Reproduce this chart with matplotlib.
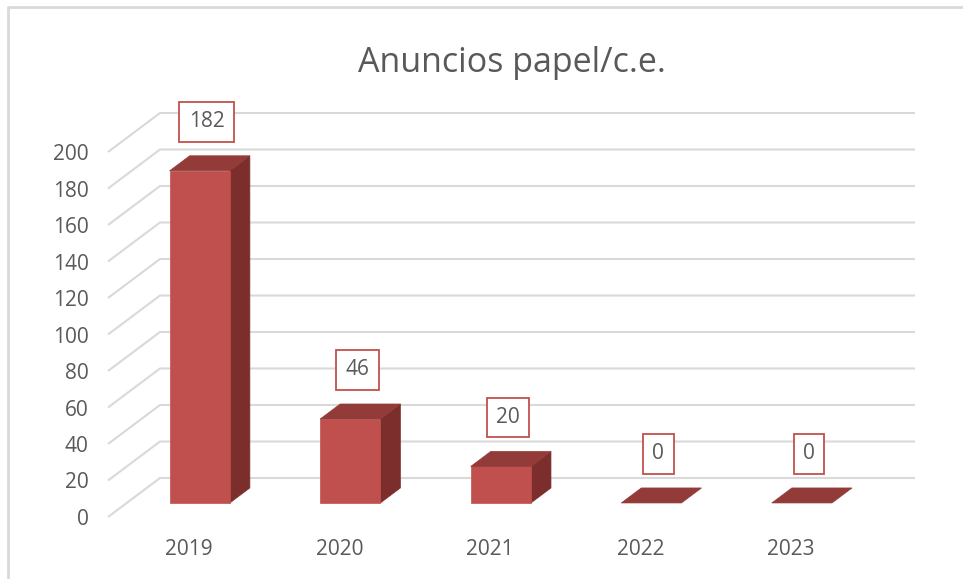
import matplotlib
matplotlib.use("Agg")
import matplotlib.pyplot as plt
from matplotlib.patches import Polygon
from matplotlib.lines import Line2D
from matplotlib.transforms import ScaledTranslation

# ---- data ----
categories = ["2019", "2020", "2021", "2022", "2023"]
values = [182, 46, 20, 0, 0]
yticks = [0, 20, 40, 60, 80, 100, 120, 140, 160, 180, 200]
title = "Anuncios papel/c.e."

# ---- style ----
W, H, DPI = 963, 579, 100
FONT = ["Open Sans", "DejaVu Sans"]
TXT = "#595959"
GRID = "#D9D9D9"
FRONT = "#C0504D"
TOP = "#933B39"
SIDE = "#7B2E2C"

plt.rcParams["font.family"] = FONT

fig = plt.figure(figsize=(W / DPI, H / DPI), dpi=DPI)
fig.patch.set_facecolor("white")

# front plane of the pseudo-3D box in pixel terms
left_px, right_px = 108, 863
y0_px, y200_px = 517, 152
ax = fig.add_axes([left_px / W, 1 - y0_px / H,
                   (right_px - left_px) / W, (y0_px - y200_px) / H])
xlim = (-0.485, 4.53)
ax.set_xlim(*xlim)
ax.set_ylim(0, 200)
for s in ax.spines.values():
    s.set_visible(False)
ax.set_facecolor("none")

# depth vector in data units
px_per_x = (right_px - left_px) / (xlim[1] - xlim[0])
px_per_y = (y0_px - y200_px) / 200
DX = 52 / px_per_x
DY = 39 / px_per_y
f1, f2 = 0.36, 0.745
bw = 0.2

# gridlines: diagonal on the left wall + horizontal on the back wall
for v in yticks:
    ax.plot([xlim[0], xlim[0] + DX, xlim[1] + DX],
            [v, v + DY, v + DY], color=GRID, lw=1.5, clip_on=False,
            zorder=1, solid_capstyle="butt")

# bars
for i, v in enumerate(values):
    xl, xr = i - bw, i + bw
    if v > 0:
        # side face
        ax.add_patch(Polygon([(xr + f1 * DX, f1 * DY), (xr + f2 * DX, f2 * DY),
                              (xr + f2 * DX, v + f2 * DY), (xr + f1 * DX, v + f1 * DY)],
                             closed=True, facecolor=SIDE, edgecolor=SIDE, lw=0.5,
                             clip_on=False, zorder=3))
        # front face
        ax.add_patch(Polygon([(xl + f1 * DX, f1 * DY), (xr + f1 * DX, f1 * DY),
                              (xr + f1 * DX, v + f1 * DY), (xl + f1 * DX, v + f1 * DY)],
                             closed=True, facecolor=FRONT, edgecolor=FRONT, lw=0.5,
                             clip_on=False, zorder=3))
    # top face
    ax.add_patch(Polygon([(xl + f1 * DX, v + f1 * DY), (xr + f1 * DX, v + f1 * DY),
                          (xr + f2 * DX, v + f2 * DY), (xl + f2 * DX, v + f2 * DY)],
                         closed=True, facecolor=TOP, edgecolor=TOP, lw=0.5,
                         clip_on=False, zorder=4))
    # data label
    ax.annotate(str(v), xy=(i + f1 * DX, v + f2 * DY), xytext=(7, 34),
                textcoords="offset pixels", ha="center", va="center",
                fontsize=15, color=TXT, zorder=6,
                bbox=dict(boxstyle="square,pad=0.45", facecolor="white",
                          edgecolor=FRONT, lw=1.3))

# axes ticks
ax.set_yticks(yticks)
ax.set_yticklabels([str(t) for t in yticks])
ax.set_xticks(range(len(categories)))
ax.set_xticklabels(categories)
ax.tick_params(axis="both", length=0, labelsize=15, labelcolor=TXT)
ax.tick_params(axis="y", pad=14)
ax.tick_params(axis="x", pad=16)
for lbl in ax.get_xticklabels():
    lbl.set_transform(lbl.get_transform() + ScaledTranslation(8 / DPI, 0, fig.dpi_scale_trans))

# title
fig.text(512 / W, 1 - 63 / H, title, ha="center", va="center",
         fontsize=24.5, color=TXT)

# chart border (only top and left edges are visible in the crop)
fig.lines.append(Line2D([7.5 / W, 7.5 / W, 1.0], [0.0, 1 - 7 / H, 1 - 7 / H],
                        transform=fig.transFigure, color=GRID, lw=2))

fig.savefig("out.png", dpi=DPI, facecolor="white")
